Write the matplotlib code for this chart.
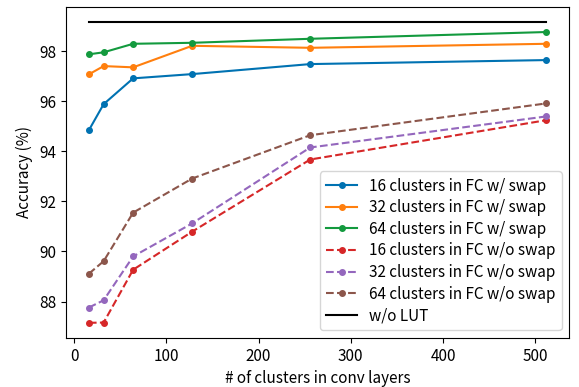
import matplotlib
matplotlib.use('Agg')
import matplotlib.pyplot as plt

plt.rcParams['font.family'] = ['Noto Sans CJK JP', 'DejaVu Sans']
plt.rcParams['font.size'] = 11

# クラスタ数 (conv 層)
conv_clusters = [16, 32, 64, 128, 256, 512]

fc16_swap = [94.84, 95.88, 96.91, 97.08, 97.48, 97.64]
fc32_swap = [97.07, 97.40, 97.35, 98.21, 98.13, 98.29]
fc64_swap = [97.87, 97.95, 98.29, 98.33, 98.49, 98.76]
fc16_noswap = [87.15, 87.16, 89.27, 90.79, 93.67, 95.24]
fc32_noswap = [87.76, 88.05, 89.80, 91.12, 94.15, 95.39]
fc64_noswap = [89.11, 89.61, 91.55, 92.91, 94.64, 95.91]
no_lut = [99.16, 99.16]
no_lut_x = [16, 512]

fig, ax = plt.subplots(figsize=(5.79, 3.87), dpi=100)
fig.subplots_adjust(left=0.114, right=0.983, top=0.982, bottom=0.127)

ax.plot(conv_clusters, fc16_swap, '-o', color='#0072B2', ms=4, label='16 clusters in FC w/ swap')
ax.plot(conv_clusters, fc32_swap, '-o', color='#ff7f0e', ms=4, label='32 clusters in FC w/ swap')
ax.plot(conv_clusters, fc64_swap, '-o', color='#139a3e', ms=4, label='64 clusters in FC w/ swap')
ax.plot(conv_clusters, fc16_noswap, '--o', color='#d62728', ms=4, label='16 clusters in FC w/o swap')
ax.plot(conv_clusters, fc32_noswap, '--o', color='#9467bd', ms=4, label='32 clusters in FC w/o swap')
ax.plot(conv_clusters, fc64_noswap, '--o', color='#8c564b', ms=4, label='64 clusters in FC w/o swap')
ax.plot(no_lut_x, no_lut, '-', color='black', label='w/o LUT')

ax.set_xlabel('# of clusters in conv layers')
ax.set_ylabel('Accuracy (%)')
ax.legend(loc='lower right', fontsize=11, labelspacing=0.3)

fig.savefig('out.png', dpi=100)
